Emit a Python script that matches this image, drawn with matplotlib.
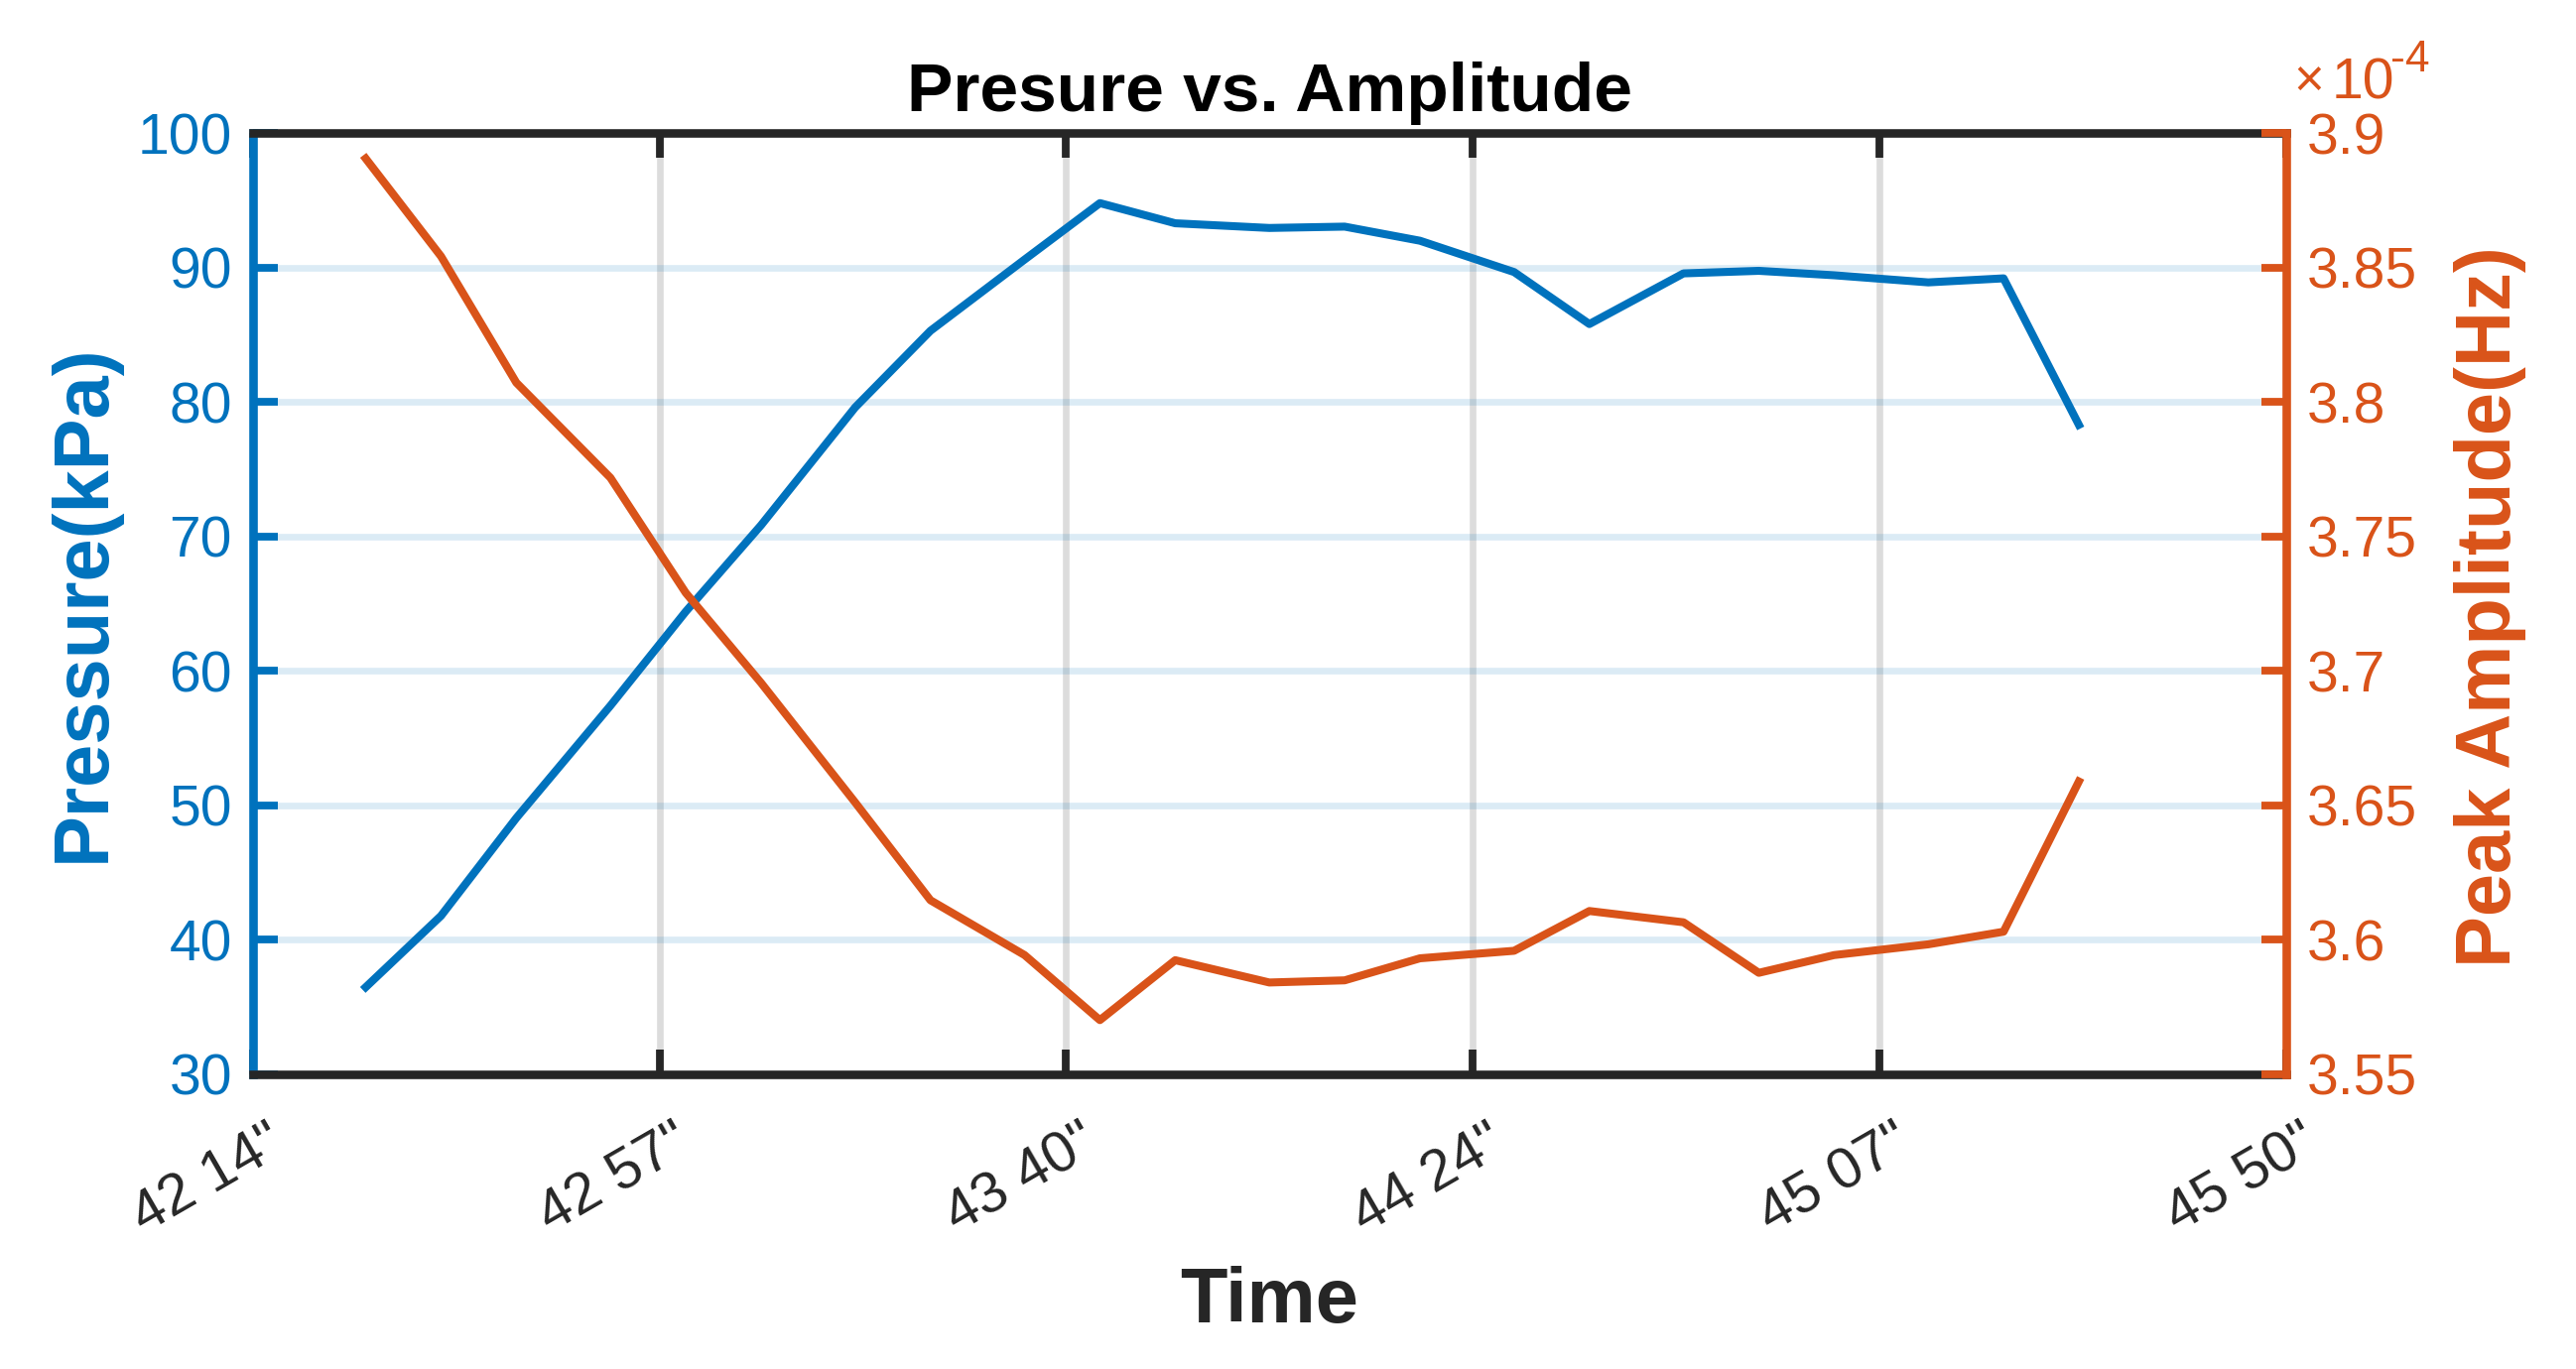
import numpy as np
import matplotlib.pyplot as plt
import matplotlib.transforms as mtransforms

# Dados (tempo em mm:ss)
tempos = ["42:26", "42:34", "42:42", "42:52", "43:00", "43:08", "43:18",
          "43:26", "43:36", "43:44", "43:52", "44:02", "44:10", "44:18",
          "44:28", "44:36", "44:46", "44:54", "45:02", "45:12", "45:20",
          "45:28"]

pressao_kpa = [36.45, 41.76, 49.04, 57.4, 64.4, 70.83, 79.6, 85.3, 90.6,
               94.8, 93.3, 92.95, 93.05, 92.0, 89.67, 85.8, 89.57, 89.76,
               89.43, 88.9, 89.2, 78.3]

# amplitude de pico em unidades de 1e-4 Hz
amplitude_e4 = [3.8906, 3.8542, 3.8072, 3.7718, 3.7290, 3.6955, 3.6510,
                3.6146, 3.5942, 3.5700, 3.5923, 3.5840, 3.5848, 3.5930,
                3.5958, 3.6106, 3.6064, 3.5876, 3.5942, 3.5982, 3.6029,
                3.6588]

rotulos_x = ['42 14"', '42 57"', '43 40"', '44 24"', '45 07"', '45 50"']
inicio_x = "42:14"
fim_x = "45:50"


def em_segundos(t):
    m, s = t.split(":")
    return int(m) * 60 + int(s)


azul = "#0072BD"
laranja = "#D95319"
cinza = "#262626"

plt.rcParams.update({"font.family": ["Liberation Sans", "DejaVu Sans"],
                     "figure.dpi": 200,
                     "savefig.dpi": 200})

W, H = 2596, 1380
fig = plt.figure(figsize=(W / 200, H / 200))

# posicao dos eixos em pixels
esq, dir_, topo, base = 254.7, 2303.7, 134.3, 1082.5
ax = fig.add_axes([esq / W, 1 - base / H, (dir_ - esq) / W, (base - topo) / H])
ax2 = ax.twinx()

x = np.array([em_segundos(t) for t in tempos])
amp = np.array(amplitude_e4) * 1e-4

ax.plot(x, pressao_kpa, color=azul, linewidth=2.9)
ax2.plot(x, amp / 1e-4, color=laranja, linewidth=2.9)

x0, x1 = em_segundos(inicio_x), em_segundos(fim_x)
ax.set_xlim(x0, x1)
ax.set_ylim(30, 100)
ax2.set_ylim(3.55, 3.9)

ax.set_xticks(np.linspace(x0, x1, len(rotulos_x)))
ax.set_xticklabels(rotulos_x)
ax.set_yticks(np.arange(30, 101, 10))
ax2.set_yticks(np.arange(3.55, 3.91, 0.05))
ax2.set_yticklabels(["3.55", "3.6", "3.65", "3.7", "3.75", "3.8", "3.85", "3.9"])

# grades
ax.grid(axis="x", color=cinza, alpha=0.16, linewidth=2.4)
ax.grid(axis="y", color=azul, alpha=0.14, linewidth=2.4)
ax.set_axisbelow(True)

# bordas
for lado in ["top", "bottom"]:
    ax.spines[lado].set_color(cinza)
    ax.spines[lado].set_linewidth(3.1)
    ax2.spines[lado].set_visible(False)
ax.spines["left"].set_color(azul)
ax.spines["left"].set_linewidth(3.1)
ax.spines["right"].set_visible(False)
ax2.spines["left"].set_visible(False)
ax2.spines["right"].set_color(laranja)
ax2.spines["right"].set_linewidth(3.1)

ax.tick_params(axis="y", colors=azul, direction="in", length=9, width=2.8,
               pad=7.5, labelsize=20.5)
ax.tick_params(axis="x", colors=cinza, direction="in", length=9, width=2.8,
               top=True, pad=15, labelsize=21)
ax2.tick_params(axis="y", colors=laranja, direction="in", length=9, width=2.8,
                pad=7.5, labelsize=20.5)

desloc = mtransforms.ScaledTranslation(14 / 200, 0, fig.dpi_scale_trans)
for rot in ax.get_xticklabels():
    rot.set_rotation(30)
    rot.set_ha("right")
    rot.set_va("top")
    rot.set_rotation_mode("anchor")
    rot.set_transform(rot.get_transform() + desloc)

ax.set_title("Presure vs. Amplitude", fontsize=25, fontweight="bold",
             color="black", pad=8)

fig.text((esq + dir_) / 2 / W, 1 - 1333 / H, "Time", ha="center",
         va="baseline", fontsize=28, fontweight="bold", color=cinza)
fig.text(105 / W, 1 - 608 / H, "Pressure(kPa)", rotation=90,
         rotation_mode="anchor", ha="center", va="baseline", fontsize=28,
         fontweight="bold", color=azul)
fig.text(2530 / W, 1 - 612 / H, "Peak Amplitude(Hz)", rotation=90,
         rotation_mode="anchor", ha="center", va="baseline", fontsize=28,
         fontweight="bold", color=laranja)

# fator de escala do eixo direito
fig.text(2311 / W, 1 - 98 / H, "\u00d7", ha="left", va="baseline",
         fontsize=19, color=laranja)
fig.text(2350 / W, 1 - 99 / H, "10", ha="left", va="baseline",
         fontsize=20.5, color=laranja)
fig.text(2409 / W, 1 - 72 / H, "-4", ha="left", va="baseline",
         fontsize=16, color=laranja)

fig.savefig("out.png", dpi=200)
